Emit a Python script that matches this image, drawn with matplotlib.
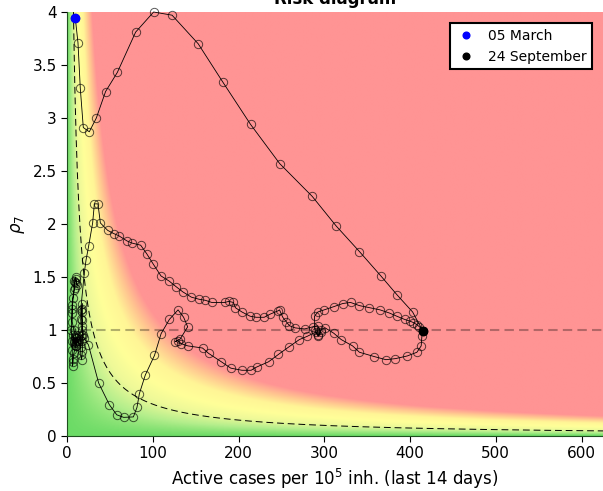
import numpy as np
import matplotlib
matplotlib.use('Agg')
import matplotlib.pyplot as plt
from matplotlib.colors import LinearSegmentedColormap

# trajectory, one point per day
cases = [
    # first wave, rising
    9.7, 12.8, 15.5, 19, 26, 34.2, 45, 58.7, 80, 101, 122.5, 153, 181.6, 214,
    248, 286, 314, 341, 366, 385, 403, 415,
    # first wave, decline
    413.8, 413, 408, 396.7, 383, 371.8, 358, 341, 333, 319.7, 311, 301,
    296, 293, 290, 280, 271, 258.6, 246.6, 235, 221, 214.7, 204, 191, 180,
    165, 158, 141, 133.5, 129, 126, 132, 140.7, 136, 129.5, 119.4, 109.7,
    102, 91.3, 84.4, 81.6, 77.4, 66, 58, 49.4, 36.9, 25,
    # summer
    20, 17, 14, 12, 10, 9, 8, 7, 8, 9, 10, 11, 12, 10, 8, 6, 6, 6, 8, 9, 10,
    11, 12, 10, 8, 9, 7, 6, 5, 6, 6, 6.5, 6.5, 7, 8, 10, 12, 14, 16, 16, 16,
    17, 18, 18, 18, 18, 18, 18, 17, 16, 17, 19, 16,
    # second wave
    20.2, 22.2, 25.2, 29.9, 31.9, 36.1, 38.9, 47.4, 54.4, 60.2, 70, 75.8,
    85.9, 92.9, 100.7, 109.6, 119.4, 127, 135, 145, 154, 161.4, 168.7, 184,
    188.6, 194, 196.4, 204, 213.5, 220.5, 230, 237, 245.8, 247.8, 251.6,
    255.5, 259.4, 266, 277, 286.6, 292.5, 296, 293, 289, 288.6, 292.5, 300,
    311, 321.6, 330.6, 341, 352.7, 365, 376, 384.6, 393.6, 399.4, 404, 408,
    411, 415,
]
rho7 = [
    3.94, 3.71, 3.28, 2.91, 2.87, 3.0, 3.25, 3.43, 3.81, 4.0, 3.97, 3.70, 3.34,
    2.94, 2.57, 2.26, 1.98, 1.74, 1.51, 1.33, 1.17, 0.99,
    0.94, 0.85, 0.79, 0.755, 0.73, 0.72, 0.75, 0.79, 0.85, 0.91, 0.97, 1.02,
    1.0, 0.94, 0.98, 0.94, 0.91, 0.84, 0.77, 0.70, 0.65, 0.62, 0.62, 0.64, 0.70,
    0.78, 0.83, 0.85, 0.87, 0.9, 0.89, 0.915, 1.03, 1.12, 1.19, 1.10, 0.965,
    0.76, 0.575, 0.40, 0.27, 0.18, 0.176, 0.20, 0.295, 0.50, 0.86,
    0.92, 0.95, 0.9, 0.88, 0.92, 0.86, 0.9, 0.95, 0.88, 0.93, 0.89, 0.85, 0.9,
    0.95, 1.0, 1.08, 1.16, 1.24, 1.38, 1.45, 1.48, 1.44, 1.42, 1.5, 1.46, 1.4,
    1.3, 1.2, 1.0, 0.9, 0.81, 0.73, 0.66, 0.70, 0.78, 0.85, 0.92, 0.95, 0.94,
    0.84, 0.76, 0.72, 0.80, 0.9, 1.04, 1.09, 1.17, 1.25, 1.2, 1.1, 1.0, 0.95,
    1.19,
    1.54, 1.66, 1.79, 2.01, 2.19, 2.19, 2.01, 1.94, 1.91, 1.89, 1.84, 1.82,
    1.80, 1.72, 1.62, 1.51, 1.46, 1.41, 1.36, 1.31, 1.29, 1.28, 1.26, 1.26,
    1.27, 1.26, 1.21, 1.17, 1.13, 1.12, 1.12, 1.15, 1.18, 1.19, 1.12, 1.08,
    1.04, 1.02, 1.01, 1.03, 1.04, 0.98, 0.95, 1.0, 1.13, 1.17, 1.19, 1.22,
    1.25, 1.26, 1.23, 1.21, 1.19, 1.16, 1.13, 1.10, 1.085, 1.07, 1.05, 1.03,
    0.99,
]
start_label = '05 March'
end_label = '24 September'

x_ticks = [0, 100, 200, 300, 400, 500, 600]
y_ticks = [0, 0.5, 1, 1.5, 2, 2.5, 3, 3.5, 4]
y_tick_labels = ['0', '0.5', '1', '1.5', '2', '2.5', '3', '3.5', '4']
x_max = 625
y_max = 4
low_risk = 30  # rho7 * cases level for the dashed curve

fig = plt.figure(figsize=(6.03, 4.91), dpi=100)
ax = fig.add_axes([67 / 603, 55 / 491, 1 - 67 / 603, 424 / 491])

# background: risk = rho7 * cases
xx, yy = np.meshgrid(np.linspace(0, x_max, 800), np.linspace(0, y_max, 500))
risk = xx * yy
cmap = LinearSegmentedColormap.from_list('risk', [
    (0.0, '#6cdb66'),
    (0.136, '#b4ee8c'),
    (0.27, '#eef998'),
    (0.41, '#ffff99'),
    (0.59, '#fff596'),
    (0.77, '#ffc390'),
    (0.93, '#ff9494'),
    (1.0, '#ff9494'),
])
ax.imshow(risk, origin='lower', extent=[0, x_max, 0, y_max], aspect='auto',
          cmap=cmap, vmin=0, vmax=125, interpolation='bilinear', zorder=0)

# reference curves
xd = np.linspace(low_risk / y_max, x_max, 400)
ax.plot(xd, low_risk / xd, color='k', lw=0.7, dashes=(7, 4), zorder=1)
ax.axhline(1, color='k', alpha=0.3, lw=1.5, dashes=(4.5, 2.5), zorder=1)

# trajectory
ax.plot(cases, rho7, '-', color='k', lw=0.6, zorder=2, clip_on=False)
ax.plot(cases, rho7, 'o', ms=6, mfc='none', mec=(0, 0, 0, 0.65), mew=0.7,
        zorder=3, clip_on=False)
ax.plot(cases[0], rho7[0], 'o', color='blue', ms=6, label=start_label,
        zorder=4, clip_on=False)
ax.plot(cases[-1], rho7[-1], 'o', color='black', ms=6, label=end_label,
        zorder=4, clip_on=False)

ax.set_xlim(0, x_max)
ax.set_ylim(0, y_max)
ax.set_xticks(x_ticks)
ax.set_yticks(y_ticks)
ax.set_yticklabels(y_tick_labels)
ax.tick_params(labelsize=11, direction='out', length=4)
for side in ['top', 'right']:
    ax.spines[side].set_visible(False)
ax.spines['left'].set_color('#1f4f1f')
ax.spines['bottom'].set_color('#1f4f1f')

ax.set_xlabel('Active cases per $10^5$ inh. (last 14 days)', fontsize=12)
ax.set_ylabel(r'$\rho_7$', fontsize=12)
ax.set_title('Risk diagram', fontsize=12, fontweight='bold')

leg = ax.legend(loc='upper right', fontsize=10, fancybox=False, framealpha=1,
                edgecolor='k', handlelength=1.5, markerscale=0.8,
                borderaxespad=0.8)
leg.get_frame().set_linewidth(1.5)

fig.savefig('out.png', dpi=100)
